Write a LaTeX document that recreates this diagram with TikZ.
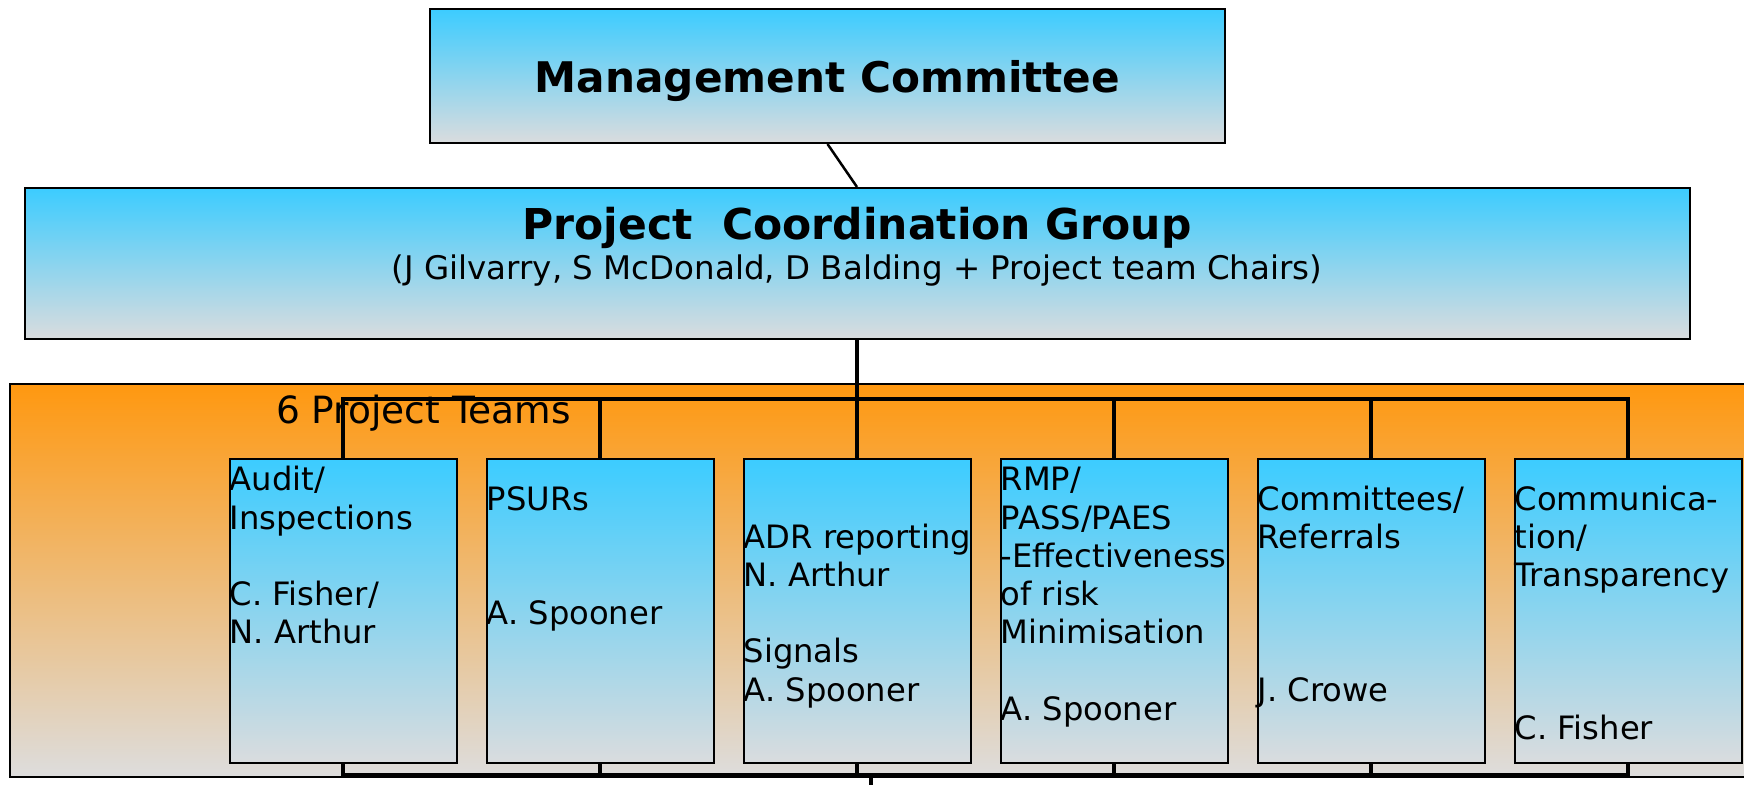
\documentclass[tikz,border=0pt]{standalone}
\usepackage{fontspec}
\setmainfont{DejaVu Sans}
\usepackage{tikz}
\usepackage{xcolor}

\definecolor{boxtop}{RGB}{60,204,255}
\definecolor{boxbot}{RGB}{218,220,222}
\definecolor{bandtop}{RGB}{255,152,16}
\definecolor{bandmid}{RGB}{238,192,166}
\definecolor{bandbot}{RGB}{221,221,221}

\begin{document}
\begin{tikzpicture}[x=1pt,y=-1pt,
    box/.style={draw=black,line width=2pt,top color=boxtop,bottom color=boxbot,inner sep=0pt},
    team/.style={box,minimum width=227,minimum height=304},
    band/.style={draw=black,line width=2.5pt,top color=bandtop,middle color=bandmid,bottom color=bandbot,inner sep=0pt},
    link/.style={line width=3.5pt},
    teamtext/.style={anchor=north west,inner sep=0pt,align=left,font=\fontsize{32.2}{38.2}\selectfont}]
    \useasboundingbox (0,0) rectangle (1744,784);
    \node[band,minimum width=1750,minimum height=393] (band) at (885,580.5) {};
    \node[anchor=base west,inner sep=0pt,font=\fontsize{37.5}{44}\selectfont] (bandlabel) at (276,423) {6 Project Teams};
    \node[box,minimum width=795,minimum height=134,text depth=0pt,font=\fontsize{42.2}{50}\selectfont\bfseries] (mc) at (827.5,76) {Management Committee};
    \node[box,minimum width=1665,minimum height=151] (pcg) at (857,263.5) {};
    \node[anchor=base,font=\fontsize{42.5}{50}\selectfont\bfseries] (pcgtitle) at (857,239) {Project\ \ Coordination Group};
    \node[anchor=base,font=\fontsize{32.5}{38}\selectfont] (pcgnames) at (857,279) {(J Gilvarry, S McDonald, D Balding + Project team Chairs)};
    \foreach \i/\off/\txt in {1/0/{Audit/\\Inspections\\~\\C. Fisher/\\N. Arthur},
                              2/0.5/{PSURs\\~\\~\\A. Spooner},
                              3/1.5/{ADR reporting\\N. Arthur\\~\\Signals\\A. Spooner},
                              4/0/{RMP/\\PASS/PAES\\-Effectiveness\\of risk\\Minimisation\\~\\A. Spooner},
                              5/0.5/{Committees/\\Referrals\\~\\~\\~\\J. Crowe},
                              6/0.5/{Communica-\\tion/\\Transparency\\~\\~\\~\\C. Fisher}}
    {
        \node[team] (t\i) at (343+257*\i-257,611) {};
        \node[teamtext] (l\i) at ([shift={(1,6+38.2*\off)}]t\i.north west) {\strut\txt};
    }
    % connectors
    \draw[line width=2.5pt] (mc.south) -- (pcg.north);
    \draw[link] (pcg.south) -- (t3.north);
    \coordinate (topbus) at (857,399);
    \draw[link] (t1.north) |- (topbus) -| (t6.north);
    \foreach \i in {2,4,5}
        \draw[link] (t\i.north) -- (t\i.north |- topbus);
    \coordinate (botbus) at (871,775);
    \coordinate (exit) at (871,790);
    \draw[link] (t1.south) |- (botbus) -| (t6.south);
    \foreach \i in {2,...,5}
        \draw[link] (t\i.south) -- (t\i.south |- botbus);
    \draw[link] (botbus) -- (exit);
\end{tikzpicture}
\end{document}
